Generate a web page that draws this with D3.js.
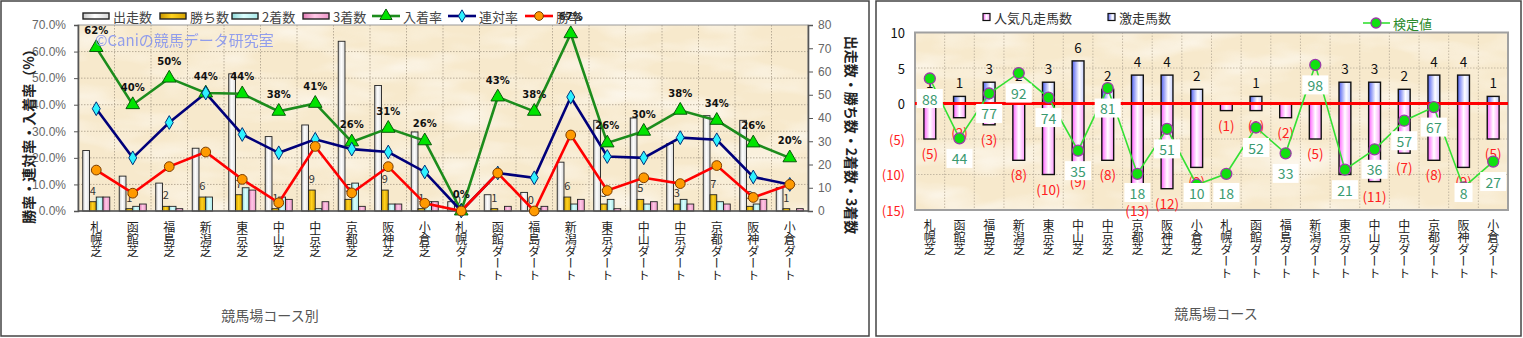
<!DOCTYPE html>
<html><head><meta charset="utf-8">
<script src="https://cdn.jsdelivr.net/npm/d3@7"></script>
<style>
body{margin:0;background:#fff;}
svg{display:block;font-family:"Noto Sans CJK JP","Noto Sans",sans-serif;}
</style></head><body>
<svg id="c" width="1523" height="338"></svg>
<script>
// ---- data ----
const courses = ["札幌芝","函館芝","福島芝","新潟芝","東京芝","中山芝","中京芝","京都芝","阪神芝","小倉芝",
  "札幌ダート","函館ダート","福島ダート","新潟ダート","東京ダート","中山ダート","中京ダート","京都ダート","阪神ダート","小倉ダート"];
const starters = [26,15,12,27,59,32,37,73,54,34,4,7,8,21,39,40,29,41,39,10];   // 出走数
const wins     = [4,1,2,6,7,1,9,5,9,1,0,1,0,6,3,5,3,7,2,1];                       // 勝ち数
const seconds  = [6,2,2,6,10,6,1,12,3,4,0,0,1,3,5,3,5,4,3,0];                     // 2着数
const thirds   = [6,3,1,0,9,5,4,2,3,4,0,2,2,5,1,4,3,3,5,1];                       // 3着数
const placeRate    = [61.5,40.0,50.0,44.4,44.1,37.5,40.5,26.0,31.1,26.4,0,42.9,37.5,66.7,25.6,30.0,37.9,34.1,25.6,20.0]; // 入着率
const quinellaRate = [38.5,20.0,33.3,44.4,28.8,21.9,27.0,23.3,22.2,14.7,0,14.3,12.5,42.9,20.5,20.0,27.6,26.8,12.8,10.0]; // 連対率
const winRate      = [15.4,6.7,16.7,22.2,11.9,3.1,24.3,6.8,16.7,2.9,0,14.3,0,28.6,7.7,12.5,10.3,17.1,5.1,10.0];          // 勝率
const pctTicks   = [0,10,20,30,40,50,60,70];
const countTicks = [0,10,20,30,40,50,60,70,80];

const hotRuns  = [1,1,3,2,3,6,2,4,4,2,0,1,0,0,3,3,2,4,4,1];          // 激走馬数
const favFails = [5,2,3,8,10,9,8,13,12,9,1,1,2,5,10,11,7,8,9,5];     // 人気凡走馬数
const testValue = [88,44,77,92,74,35,81,18,51,10,18,52,33,98,21,36,57,67,8,27]; // 検定値
const diffTicks = [10,5,0,-5,-10,-15];

const svg = d3.select("#c");
const defs = svg.append("defs");

// paper texture for plot backgrounds
const f = defs.append("filter").attr("id","paper").attr("x",0).attr("y",0).attr("width","100%").attr("height","100%");
f.append("feTurbulence").attr("type","fractalNoise").attr("baseFrequency","0.012 0.035").attr("numOctaves",3).attr("seed",7);
f.append("feColorMatrix").attr("type","matrix").attr("values","0 0 0 0 1  0 0 0 0 1  0 0 0 0 1  1.8 0 0 0 -0.75");

function hGrad(id, stops){
  const g = defs.append("linearGradient").attr("id",id).attr("x1","0%").attr("x2","100%").attr("y1","0%").attr("y2","0%");
  stops.forEach(([o,c])=>g.append("stop").attr("offset",o).attr("stop-color",c));
}
hGrad("gStart",[["0%","#c8c8c8"],["45%","#ffffff"],["100%","#d8d8d8"]]);
hGrad("gWin",[["0%","#c89600"],["45%","#ffd21e"],["100%","#d8a400"]]);
hGrad("gSecond",[["0%","#8ed8d8"],["45%","#dcffff"],["100%","#a8e8e8"]]);
hGrad("gThird",[["0%","#e07ab4"],["45%","#ffc8e6"],["100%","#ec96c8"]]);
hGrad("gHot",[["0%","#5060f0"],["60%","#ffffff"],["100%","#c8d0ff"]]);
hGrad("gFav",[["0%","#ff60ff"],["50%","#ffffff"],["100%","#ff9cff"]]);

// outer frames
svg.append("rect").attr("x",1).attr("y",1).attr("width",868).attr("height",335)
  .attr("fill","#fff").attr("stroke","#444").attr("stroke-width",1.5);
svg.append("rect").attr("x",876).attr("y",1).attr("width",645).attr("height",335)
  .attr("fill","#fff").attr("stroke","#444").attr("stroke-width",1.5);

function paperRect(g,x,y,w,h){
  g.append("rect").attr("x",x).attr("y",y).attr("width",w).attr("height",h).attr("fill","#f7e9cc");
  g.append("rect").attr("x",x).attr("y",y).attr("width",w).attr("height",h).attr("filter","url(#paper)").attr("opacity",0.75);
}

// category labels set in vertical writing
function catLabels(g, xs, top){
  g.append("g").selectAll("text").data(courses).join("text")
    .attr("x",(d,i)=>xs(i)).attr("y",top)
    .style("writing-mode","vertical-rl").style("text-orientation","upright")
    .attr("font-size",12).attr("fill","#222").attr("text-anchor","start")
    .text(d=>d);
}

// ================= left chart =================
const L = {x0:78, x1:808, y0:25, y1:211};
const gl = svg.append("g");
paperRect(gl, L.x0, L.y0, L.x1-L.x0, L.y1-L.y0);

const xL = d3.scaleBand().domain(d3.range(courses.length)).range([L.x0, L.x1]);
const series = ["starters","wins","seconds","thirds"];
const xSub = d3.scaleBand().domain(series).range([0, xL.bandwidth()]).paddingInner(0).paddingOuter(0.7);
const yPct = d3.scaleLinear().domain([0,70]).range([L.y1, L.y0]);
const yCnt = d3.scaleLinear().domain([0,80]).range([L.y1, L.y0]);
const cx = i => xL(i) + xL.bandwidth()/2;

// grid
gl.selectAll("line.hg").data(pctTicks.slice(1,-1)).join("line")
  .attr("x1",L.x0).attr("x2",L.x1).attr("y1",d=>yPct(d)).attr("y2",d=>yPct(d))
  .attr("stroke","#a89c88").attr("stroke-dasharray","1.5,1.5").attr("stroke-width",0.8);
gl.selectAll("line.vg").data(d3.range(1,courses.length)).join("line")
  .attr("x1",d=>xL(d)).attr("x2",d=>xL(d)).attr("y1",L.y0).attr("y2",L.y1)
  .attr("stroke","#a89c88").attr("stroke-dasharray","1.5,1.5").attr("stroke-width",0.8);
gl.append("rect").attr("x",L.x0).attr("y",L.y0).attr("width",L.x1-L.x0).attr("height",L.y1-L.y0)
  .attr("fill","none").attr("stroke","#9a9a9a").attr("stroke-width",1);

// bars
const barSets = [["starters",starters,"gStart"],["wins",wins,"gWin"],["seconds",seconds,"gSecond"],["thirds",thirds,"gThird"]];
barSets.forEach(([key,vals,grad])=>{
  gl.append("g").selectAll("rect").data(vals).join("rect")
    .attr("x",(d,i)=>xL(i)+xSub(key)).attr("width",xSub.bandwidth())
    .attr("y",d=>yCnt(d)).attr("height",d=>Math.max(0,yCnt(0)-yCnt(d)))
    .attr("fill",`url(#${grad})`).attr("stroke","#222").attr("stroke-width",0.9);
});
// win count labels
gl.append("g").selectAll("text").data(wins).join("text")
  .attr("x",(d,i)=>xL(i)+xSub("wins")+xSub.bandwidth()/2).attr("y",d=>yCnt(d)-12)
  .attr("dominant-baseline","central").attr("text-anchor","middle")
  .attr("font-size",11).attr("fill","#333").text(d=>d);

// axes
const axL = d3.axisLeft(yPct).tickValues(pctTicks).tickSize(4).tickFormat(d=>d.toFixed(1)+"%");
const axR = d3.axisRight(yCnt).tickValues(countTicks).tickSize(5);
const gaL = gl.append("g").attr("transform",`translate(${L.x0},0)`).call(axL);
const gaR = gl.append("g").attr("transform",`translate(${L.x1},0)`).call(axR);
[gaL,gaR].forEach(a=>{
  a.select(".domain").attr("stroke","#555").attr("stroke-width",1.6);
  a.selectAll(".tick line").attr("stroke","#555");
  a.selectAll(".tick text").attr("fill","#666").attr("font-size",12).attr("font-family","'Liberation Sans',Arial,sans-serif");
});
gaL.selectAll(".tick text").attr("x",-12);
gaR.selectAll(".tick text").attr("x",10);
gl.append("line").attr("x1",L.x0).attr("x2",L.x1).attr("y1",L.y1).attr("y2",L.y1).attr("stroke","#555").attr("stroke-width",1.6);

// rate lines
const lineGen = vals => d3.line().x((d,i)=>cx(i)).y(d=>yPct(d))(vals);
const rateSets = [
  {vals:placeRate, stroke:"#1c8c1c", sym:d3.symbolTriangle, size:80, fill:"#00e400", edge:"#0a5a0a"},
  {vals:quinellaRate, stroke:"#00007a", sym:d3.symbolDiamond, size:55, fill:"#2ef2ff", edge:"#00307a"},
  {vals:winRate, stroke:"#ff0000", sym:d3.symbolCircle, size:75, fill:"#ff9a00", edge:"#7a3c00"}
];
rateSets.forEach(s=>{
  gl.append("path").attr("d",lineGen(s.vals)).attr("fill","none").attr("stroke",s.stroke).attr("stroke-width",2.6);
});
rateSets.forEach(s=>{
  gl.append("g").selectAll("path").data(s.vals).join("path")
    .attr("transform",(d,i)=>`translate(${cx(i)},${yPct(d)})`)
    .attr("d",d3.symbol().type(s.sym).size(s.size)).attr("fill",s.fill).attr("stroke",s.edge).attr("stroke-width",1);
});
// place-rate labels
gl.append("g").selectAll("text").data(placeRate).join("text")
  .attr("x",(d,i)=>cx(i)).attr("y",d=>yPct(d)-17).attr("text-anchor","middle").attr("dominant-baseline","central")
  .attr("font-size",10).attr("font-weight","bold").attr("fill","#111").attr("font-family","'DejaVu Sans',sans-serif")
  .text(d=>Math.round(d)+"%");

// watermark
gl.append("text").attr("x",95).attr("y",39).attr("dominant-baseline","central")
  .attr("font-size",15).attr("fill","#8090f0").attr("opacity",0.85).text("©Caniの競馬データ研究室");

catLabels(gl, cx, 221);

// titles
gl.append("text").attr("transform","translate(28,133) rotate(-90)").attr("text-anchor","middle").attr("dominant-baseline","central")
  .attr("font-size",14).attr("font-weight","bold").attr("fill","#222").text("勝率・連対率・入着率（%）");
gl.append("text").attr("transform","translate(852,135) rotate(90)").attr("text-anchor","middle").attr("dominant-baseline","central")
  .attr("font-size",14).attr("font-weight","bold").attr("fill","#222").text("出走数・勝ち数・2着数・3着数");
gl.append("text").attr("x",270).attr("y",315).attr("text-anchor","middle").attr("dominant-baseline","central")
  .attr("font-size",14).attr("fill","#555").text("競馬場コース別");

// legend
const lg = gl.append("g");
const legBars = [["出走数","gStart",83],["勝ち数","gWin",160],["2着数","gSecond",232],["3着数","gThird",303]];
legBars.forEach(([t,g,x])=>{
  lg.append("rect").attr("x",x).attr("y",13).attr("width",26).attr("height",6).attr("fill",`url(#${g})`).attr("stroke","#222").attr("stroke-width",1.4);
  lg.append("text").attr("x",x+30).attr("y",16).attr("dominant-baseline","central").attr("font-size",13).attr("fill","#444").text(t);
});
const legLines = [["入着率",0,372],["連対率",1,448],["勝率",2,525]];
legLines.forEach(([t,k,x])=>{
  const s = rateSets[k];
  lg.append("line").attr("x1",x).attr("x2",x+28).attr("y1",16).attr("y2",16).attr("stroke",s.stroke).attr("stroke-width",2.6);
  lg.append("path").attr("transform",`translate(${x+14},16)`).attr("d",d3.symbol().type(s.sym).size(s.size*0.8)).attr("fill",s.fill).attr("stroke",s.edge);
  lg.append("text").attr("x",x+31).attr("y",16).attr("dominant-baseline","central").attr("font-size",13).attr("fill","#444").text(t);
});

// ================= right chart =================
const R = {x0:915, x1:1508, y0:32.5, y1:210};
const gr = svg.append("g");
paperRect(gr, R.x0, R.y0, R.x1-R.x0, R.y1-R.y0);
const xR = d3.scaleBand().domain(d3.range(courses.length)).range([R.x0,R.x1]).paddingInner(0.6).paddingOuter(0.3);
const step = xR.step();
const cxR = i => xR(i) + xR.bandwidth()/2;
const yD = d3.scaleLinear().domain([-15,10]).range([R.y1,R.y0]);
const yT = d3.scaleLinear().domain([-8.6,121.8]).range([R.y1,R.y0]);

gr.selectAll("line.hg").data([5,-5,-10]).join("line")
  .attr("x1",R.x0).attr("x2",R.x1).attr("y1",d=>yD(d)).attr("y2",d=>yD(d))
  .attr("stroke","#b8ac98").attr("stroke-dasharray","1.5,1.5").attr("stroke-width",0.8);
gr.selectAll("line.vg").data(d3.range(1,courses.length)).join("line")
  .attr("x1",d=>xR(d)-step*0.3).attr("x2",d=>xR(d)-step*0.3).attr("y1",R.y0).attr("y2",R.y1)
  .attr("stroke","#b8ac98").attr("stroke-dasharray","1.5,1.5").attr("stroke-width",0.8);

// bars: hot runs upward, failed favourites downward
gr.append("g").selectAll("rect").data(favFails).join("rect")
  .attr("x",(d,i)=>xR(i)).attr("width",xR.bandwidth())
  .attr("y",yD(0)).attr("height",d=>yD(-d)-yD(0))
  .attr("fill","url(#gFav)").attr("stroke","#111").attr("stroke-width",1.4);
gr.append("g").selectAll("rect").data(hotRuns).join("rect")
  .attr("x",(d,i)=>xR(i)).attr("width",xR.bandwidth())
  .attr("y",d=>yD(d)).attr("height",d=>yD(0)-yD(d))
  .attr("fill","url(#gHot)").attr("stroke","#111").attr("stroke-width",1.4)
  .attr("display",d=>d>0?null:"none");

gr.append("rect").attr("x",R.x0).attr("y",R.y0).attr("width",R.x1-R.x0).attr("height",R.y1-R.y0)
  .attr("fill","none").attr("stroke","#a0a0a0").attr("stroke-width",2);
gr.append("line").attr("x1",R.x0).attr("x2",R.x1).attr("y1",yD(0)).attr("y2",yD(0)).attr("stroke","#ff0000").attr("stroke-width",3);

// bar value labels
gr.append("g").selectAll("text").data(hotRuns).join("text")
  .attr("x",(d,i)=>cxR(i)).attr("y",d=>yD(d)-14).attr("text-anchor","middle").attr("dominant-baseline","central")
  .attr("font-size",13.5).attr("fill","#111").text(d=>d>0?d:"");
gr.append("g").selectAll("text").data(favFails).join("text")
  .attr("x",(d,i)=>cxR(i)).attr("y",d=>yD(-d)+14).attr("text-anchor","middle").attr("dominant-baseline","central")
  .attr("font-size",13.5).attr("fill","#ff2020").text(d=>`(${d})`);

// test value line
gr.append("path").attr("d",d3.line().x((d,i)=>cxR(i)).y(d=>yT(d))(testValue))
  .attr("fill","none").attr("stroke","#33e033").attr("stroke-width",1.6);
gr.append("g").selectAll("circle").data(testValue).join("circle")
  .attr("cx",(d,i)=>cxR(i)).attr("cy",d=>yT(d)).attr("r",5.5)
  .attr("fill","#10e010").attr("stroke","#9a3aa8").attr("stroke-width",1.3);
const tl = gr.append("g").selectAll("g").data(testValue).join("g")
  .attr("transform",(d,i)=>`translate(${cxR(i)},${Math.min(yT(d)+20,192.5)})`);
tl.append("rect").attr("x",d=>-(String(d).length*4+5)).attr("y",-9.5)
  .attr("width",d=>String(d).length*8+10).attr("height",19).attr("fill","#fff");
tl.append("text").attr("text-anchor","middle").attr("dominant-baseline","central")
  .attr("font-size",14).attr("fill","#3a9a70").text(d=>d);

// y axis labels
gr.selectAll("text.yt").data(diffTicks).join("text").attr("class","yt")
  .attr("x",905).attr("y",d=>yD(d)).attr("text-anchor","end").attr("dominant-baseline","central")
  .attr("font-size",13).attr("fill",d=>d<0?"#ff2020":"#111")
  .text(d=>d<0?`(${-d})`:d);

catLabels(gr, cxR, 219);
gr.append("text").attr("x",1216).attr("y",313).attr("text-anchor","middle").attr("dominant-baseline","central")
  .attr("font-size",14).attr("fill","#555").text("競馬場コース");

// legend
const lr = gr.append("g");
[["人気凡走馬数","gFav",983],["激走馬数","gHot",1108]].forEach(([t,g,x])=>{
  lr.append("rect").attr("x",x).attr("y",13.5).attr("width",7).attr("height",7).attr("fill",`url(#${g})`).attr("stroke","#111").attr("stroke-width",1.2);
  lr.append("text").attr("x",x+11).attr("y",17).attr("dominant-baseline","central").attr("font-size",13).attr("fill","#333").text(t);
});
lr.append("line").attr("x1",1363).attr("x2",1390).attr("y1",23).attr("y2",23).attr("stroke","#33e033").attr("stroke-width",1.6);
lr.append("circle").attr("cx",1376).attr("cy",23).attr("r",5).attr("fill","#10e010").attr("stroke","#9a3aa8").attr("stroke-width",1.3);
lr.append("text").attr("x",1393).attr("y",23).attr("dominant-baseline","central").attr("font-size",13).attr("fill","#2a8a2a").text("検定値");
</script>
</body></html>
